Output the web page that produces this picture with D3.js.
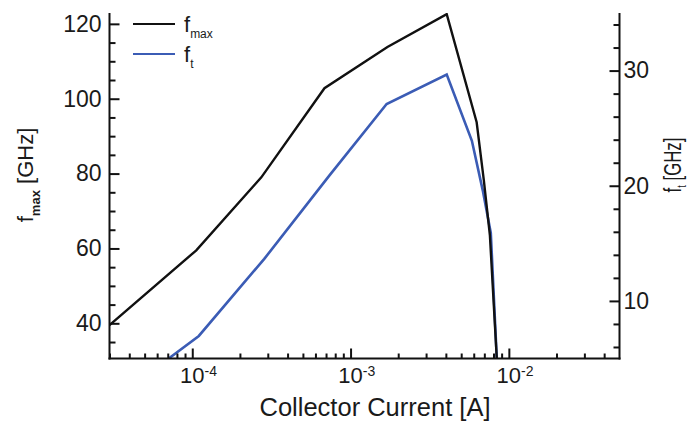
<!DOCTYPE html>
<html>
<head>
<meta charset="utf-8">
<script src="https://cdn.jsdelivr.net/npm/d3@7"></script>
<style>
  html, body { margin: 0; padding: 0; background: #fff; }
  svg { display: block; }
  text { font-family: "Liberation Sans", Arial, Helvetica, sans-serif; fill: #1a1a1a; }
</style>
</head>
<body>
<script>
// Collector current sweep (A) and the resulting fmax / ft (GHz)
const currentFmax = [3.0e-5, 1.06e-4, 2.73e-4, 6.84e-4, 1.71e-3, 4.05e-3, 6.26e-3, 6.95e-3, 7.59e-3, 8.39e-3];
const fmax        = [39.5,   59.5,    79.0,    102.8,   113.8,   122.6,   93.7,    78.2,    63.5,    30.6];

const currentFt = [7.1e-5, 1.1e-4, 2.85e-4, 7.36e-4, 1.69e-3, 4.05e-3, 5.84e-3, 6.84e-3, 7.69e-3, 8.39e-3];
const ft        = [5.0,    6.96,   13.65,   20.9,    27.1,    29.65,   23.9,    19.6,    15.9,    5.0];

// Axis tick values
const xMajor = [1e-4, 1e-3, 1e-2];
const xMinor = [3e-5, 4e-5, 5e-5, 6e-5, 7e-5, 8e-5, 9e-5,
                2e-4, 3e-4, 4e-4, 5e-4, 6e-4, 7e-4, 8e-4, 9e-4,
                2e-3, 3e-3, 4e-3, 5e-3, 6e-3, 7e-3, 8e-3, 9e-3,
                2e-2, 3e-2, 4e-2];
const xExponents = ["-4", "-3", "-2"];
const leftMajor = [40, 60, 80, 100, 120];
const leftMinor = [35, 45, 50, 55, 65, 70, 75, 85, 90, 95, 105, 110, 115];
const rightMajor = [10, 20, 30];
const rightMinor = [6, 8, 12, 14, 16, 18, 22, 24, 26, 28, 32, 34];

const W = 690, H = 421;
const plot = { left: 109.5, right: 619.5, top: 13, bottom: 358.5 };

const svg = d3.select("body").append("svg").attr("width", W).attr("height", H);

const x = d3.scaleLog().domain([3e-5, 5e-2]).range([plot.left, plot.right]);
const yL = d3.scaleLinear().domain([30.6, 122.9]).range([plot.bottom, plot.top]);
const yR = d3.scaleLinear().domain([5, 35]).range([plot.bottom, plot.top]);

svg.append("clipPath").attr("id", "plotClip")
  .append("rect")
  .attr("x", plot.left).attr("y", plot.top)
  .attr("width", plot.right - plot.left).attr("height", plot.bottom - plot.top);

// ---- data lines ----
const lineL = d3.line().x(d => x(d[0])).y(d => yL(d[1]));
const lineR = d3.line().x(d => x(d[0])).y(d => yR(d[1]));

const blue = "#3b5cb5";

svg.append("path")
  .datum(d3.zip(currentFt, ft))
  .attr("clip-path", "url(#plotClip)")
  .attr("fill", "none").attr("stroke", blue).attr("stroke-width", 2.6)
  .attr("stroke-linejoin", "miter")
  .attr("d", lineR);

svg.append("path")
  .datum(d3.zip(currentFmax, fmax))
  .attr("clip-path", "url(#plotClip)")
  .attr("fill", "none").attr("stroke", "#111").attr("stroke-width", 2.4)
  .attr("stroke-linejoin", "miter")
  .attr("d", lineL);

// ---- axes ----
const axisStroke = g => {
  g.selectAll(".domain").remove();
  g.selectAll(".tick line").attr("stroke", "#111").attr("stroke-width", 2);
  g.selectAll(".tick text").style("font-size", "23px").attr("fill", "#1a1a1a");
};

// left axis (fmax)
svg.append("g").attr("transform", `translate(${plot.left},0)`)
  .call(d3.axisLeft(yL).tickValues(leftMajor).tickSizeInner(-10).tickSizeOuter(0).tickPadding(8))
  .call(axisStroke);
svg.append("g").attr("transform", `translate(${plot.left},0)`)
  .call(d3.axisLeft(yL).tickValues(leftMinor).tickSizeInner(-6).tickSizeOuter(0).tickFormat(""))
  .call(axisStroke);

// right axis (ft)
svg.append("g").attr("transform", `translate(${plot.right},0)`)
  .call(d3.axisRight(yR).tickValues(rightMajor).tickSizeInner(-10).tickSizeOuter(0).tickPadding(4))
  .call(axisStroke);
svg.append("g").attr("transform", `translate(${plot.right},0)`)
  .call(d3.axisRight(yR).tickValues(rightMinor).tickSizeInner(-6).tickSizeOuter(0).tickFormat(""))
  .call(axisStroke);

// bottom axis
svg.append("g").attr("transform", `translate(0,${plot.bottom})`)
  .call(d3.axisBottom(x).tickValues(xMajor).tickSizeInner(-10).tickSizeOuter(0).tickFormat(""))
  .call(axisStroke);
svg.append("g").attr("transform", `translate(0,${plot.bottom})`)
  .call(d3.axisBottom(x).tickValues(xMinor).tickSizeInner(-5).tickSizeOuter(0).tickFormat(""))
  .call(axisStroke);

// axis spines
const spine = svg.append("g").attr("stroke", "#111").attr("stroke-width", 2).attr("fill", "none");
spine.append("line").attr("x1", plot.left).attr("x2", plot.left).attr("y1", plot.top).attr("y2", plot.bottom + 1);
spine.append("line").attr("x1", plot.right).attr("x2", plot.right).attr("y1", plot.top).attr("y2", plot.bottom + 1);
spine.append("line").attr("x1", plot.left - 1).attr("x2", plot.right + 1).attr("y1", plot.bottom).attr("y2", plot.bottom);

// power-of-ten labels on the current axis
xMajor.forEach((v, i) => {
  const base = svg.append("text")
    .attr("x", x(v)).attr("y", 383)
    .attr("text-anchor", "middle")
    .style("font-size", "22px")
    .text("10");
  const half = base.node().getComputedTextLength() / 2;
  svg.append("text")
    .attr("x", x(v) + half).attr("y", 376)
    .style("font-size", "14px")
    .text(xExponents[i]);
});

// axis titles
svg.append("text")
  .attr("x", 375).attr("y", 416)
  .attr("text-anchor", "middle")
  .style("font-size", "25.5px")
  .text("Collector Current [A]");

const leftTitle = svg.append("text")
  .attr("transform", "translate(33,175) rotate(-90)")
  .attr("text-anchor", "middle")
  .style("font-size", "22px");
leftTitle.append("tspan").text("f");
leftTitle.append("tspan").attr("dy", 7).style("font-size", "13px").style("font-weight", "bold").text("max");
leftTitle.append("tspan").attr("dy", -7).text(" [GHz]");

const rightTitle = svg.append("text")
  .attr("transform", "translate(681,165) rotate(-90) scale(0.7,1)")
  .attr("text-anchor", "middle")
  .style("font-size", "24px");
rightTitle.append("tspan").text("f");
rightTitle.append("tspan").attr("dy", 5).style("font-size", "13px").text("t");
rightTitle.append("tspan").attr("dy", -5).text(" [GHz]");

// legend
const legendItems = [
  { label: "f", sub: "max", color: "#111", y: 24 },
  { label: "f", sub: "t", color: blue, y: 54 }
];
const legend = svg.append("g");
legendItems.forEach(item => {
  legend.append("line")
    .attr("x1", 133).attr("x2", 175)
    .attr("y1", item.y).attr("y2", item.y)
    .attr("stroke", item.color).attr("stroke-width", 2);
  const t = legend.append("text")
    .attr("x", 184).attr("y", item.y + 8)
    .style("font-size", "22px");
  t.append("tspan").text(item.label);
  t.append("tspan").attr("dy", 6).style("font-size", "12px").text(item.sub);
});
</script>
</body>
</html>
